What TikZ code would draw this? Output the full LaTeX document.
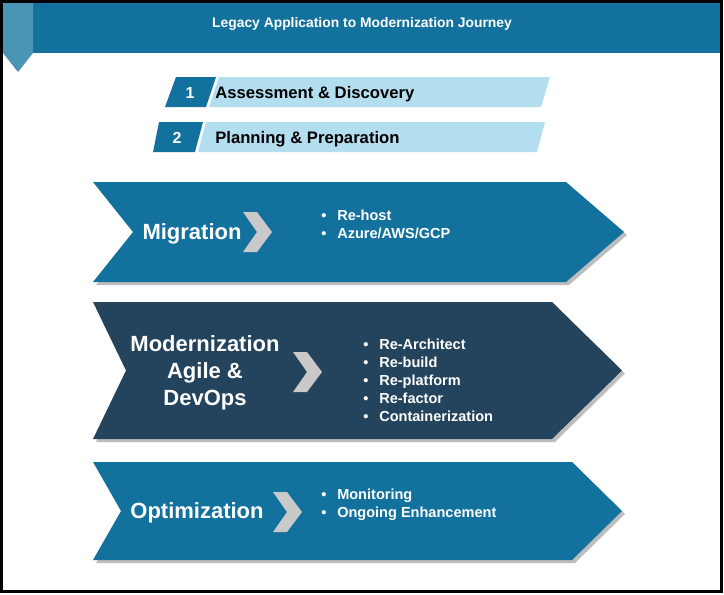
\documentclass[tikz,border=0pt]{standalone}
\usepackage{fontspec}
\setmainfont{Liberation Sans}
\definecolor{bandblue}{HTML}{13729D}
\definecolor{tabblue}{HTML}{4A94B5}
\definecolor{stepblue}{HTML}{B3DEF0}
\definecolor{navy}{HTML}{23445C}
\definecolor{arrowgray}{HTML}{C9C9C9}
\definecolor{shadowgray}{HTML}{BDBDBD}
\newcommand\bul{\makebox[12pt][l]{\textbullet}}

\begin{document}
\begin{tikzpicture}[x=0.75pt,y=-0.75pt,
  phase/.style={text=white,font=\bfseries\fontsize{16.5}{20.25}\selectfont,align=center,inner sep=0pt,yshift=-1.5pt},
  items/.style={text=white,font=\bfseries\fontsize{10.9}{13.5}\selectfont,align=left,anchor=west,inner sep=0pt,yshift=-0.5pt},
  stepnum/.style={text=white,font=\bfseries\fontsize{12}{14}\selectfont,inner sep=0pt,yshift=-1pt},
  steptext/.style={text=black,font=\bfseries\fontsize{12.5}{15}\selectfont,anchor=west,inner sep=0pt,yshift=-1.5pt}]
\useasboundingbox (0,0) rectangle (724,594);
\fill[white] (0,0) rectangle (724,594);
\fill[bandblue] (3,3) rectangle (721,53);
\fill[tabblue] (3,3) -- (33,3) -- (33,53) -- (18,72) -- (3,53) -- cycle;
\node[text=white,font=\bfseries\fontsize{10.4}{12}\selectfont,yshift=-1.5pt] (head) at (362,22) {Legacy Application to Modernization Journey};
\draw[line width=2.25pt] (1.5,1.5) rectangle (721.5,591.5);

\fill[bandblue] (176,77) -- (216,77) -- (206,107) -- (165,107) -- cycle;
\fill[stepblue] (219,77) -- (550,77) -- (541,107) -- (209,107) -- cycle;
\fill[bandblue] (159,122) -- (203,122) -- (195,152) -- (153,152) -- cycle;
\fill[stepblue] (206,122) -- (545,122) -- (537,152) -- (198,152) -- cycle;
\node[stepnum] (num1) at (190,92) {1};
\node[steptext] (assess) at (215,92) {Assessment \& Discovery};
\node[stepnum] (num2) at (177,137) {2};
\node[steptext] (plan) at (215,137) {Planning \& Preparation};

\foreach \ya/\yb/\xn/\xs/\xt/\col in {182/282/133/566/624/bandblue, 302/439/126/552/622/navy, 462/560/121/572/622/bandblue} {
  \fill[shadowgray,shift={(3,3)}] (93,\ya) -- (\xs,\ya) -- (\xt,{(\ya+\yb)/2}) -- (\xs,\yb) -- (93,\yb) -- (\xn,{(\ya+\yb)/2}) -- cycle;
  \fill[\col] (93,\ya) -- (\xs,\ya) -- (\xt,{(\ya+\yb)/2}) -- (\xs,\yb) -- (93,\yb) -- (\xn,{(\ya+\yb)/2}) -- cycle;
}
\foreach \cx/\cy in {258/232, 308/372, 288/512}
  \fill[arrowgray,shift={(\cx,\cy)}] (-15,-20) -- (-1,-20) -- (14,0) -- (-1,20) -- (-15,20) -- (-1,0) -- cycle;

\node[phase] (migration) at (192,232) {Migration};
\node[items] (migitems) at (321,224) {\bul Re-host\\\bul Azure/AWS/GCP};
\node[phase] (modern) at (205,371) {Modernization\\Agile \&\\DevOps};
\node[items] (moditems) at (363,380) {\bul Re-Architect\\\bul Re-build\\\bul Re-platform\\\bul Re-factor\\\bul Containerization};
\node[phase] (optim) at (197,511) {Optimization};
\node[items] (optitems) at (321,504) {\bul Monitoring\\\bul Ongoing Enhancement};
\end{tikzpicture}
\end{document}
